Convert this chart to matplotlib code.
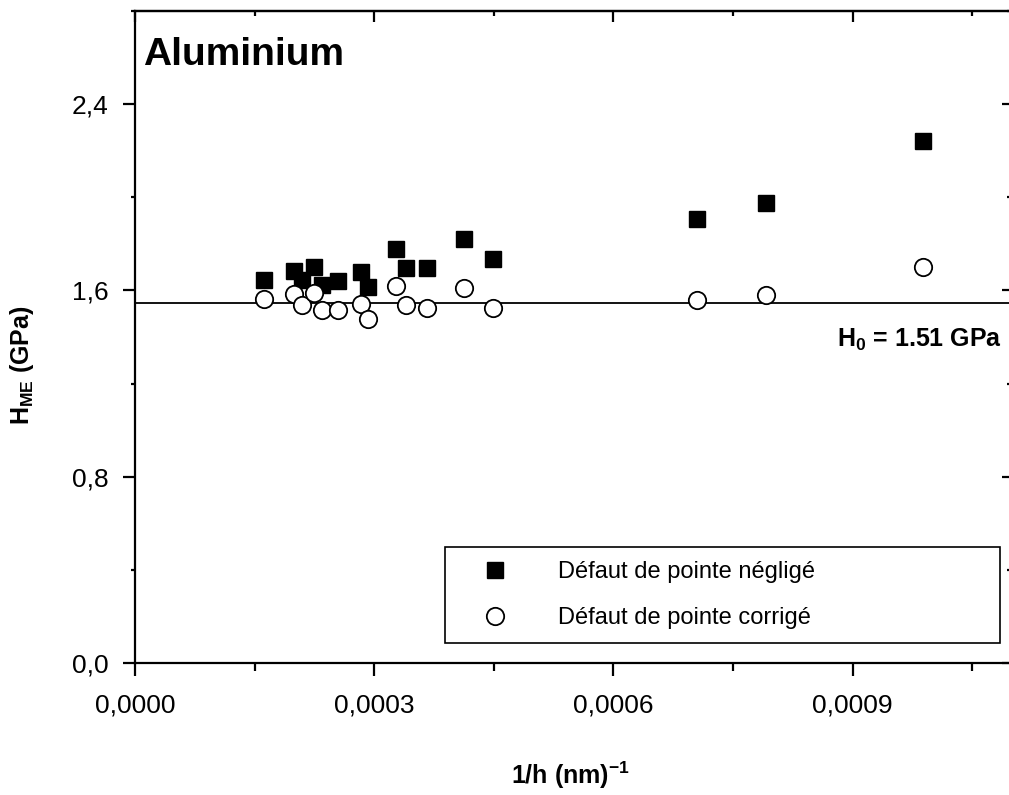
import matplotlib
matplotlib.use('Agg')
import matplotlib.pyplot as plt
from matplotlib.ticker import MultipleLocator, FuncFormatter

plt.rcParams['font.family'] = ['Liberation Sans', 'DejaVu Sans']
plt.rcParams['mathtext.fontset'] = 'custom'
plt.rcParams['mathtext.rm'] = 'Liberation Sans'
plt.rcParams['mathtext.bf'] = 'Liberation Sans:bold'
plt.rcParams['mathtext.it'] = 'Liberation Sans:italic'

# 1/h (nm^-1)
inv_h = [0.000162, 0.000200, 0.000209, 0.000225, 0.000235, 0.000255, 0.000283,
         0.000292, 0.000327, 0.000340, 0.000366, 0.000413, 0.000449, 0.000705,
         0.000791, 0.000988]
# durete, defaut de pointe neglige
h_neglige = [1.643, 1.682, 1.643, 1.700, 1.622, 1.639, 1.677, 1.614, 1.779, 1.698,
             1.698, 1.819, 1.736, 1.905, 1.975, 2.241]
# durete, defaut de pointe corrige
h_corrige = [1.565, 1.586, 1.539, 1.590, 1.514, 1.517, 1.543, 1.479, 1.617, 1.536,
             1.526, 1.612, 1.524, 1.557, 1.579, 1.700]
h0_line = 1.545

W, H = 1009, 795
fig = plt.figure(figsize=(W / 100, H / 100), dpi=100)
ax_l, ax_r, ax_t, ax_b = 135, 1012, 11, 663
ax = fig.add_axes([ax_l / W, 1 - ax_b / H, (ax_r - ax_l) / W, (ax_b - ax_t) / H])

ax.axhline(h0_line, color='black', lw=1.3, zorder=2)
ax.plot(inv_h, h_neglige, ls='none', marker='s', ms=11.5, mfc='black', mec='black',
        label='Défaut de pointe négligé', zorder=3)
ax.plot(inv_h, h_corrige, ls='none', marker='o', ms=12.5, mfc='white', mec='black',
        mew=1.3, label='Défaut de pointe corrigé', zorder=4)

ax.set_xlim(0, 0.0011)
ax.set_ylim(0, 2.8)

ax.xaxis.set_major_locator(MultipleLocator(0.0003))
ax.xaxis.set_minor_locator(MultipleLocator(0.00015))
ax.yaxis.set_major_locator(MultipleLocator(0.8))
ax.yaxis.set_minor_locator(MultipleLocator(0.4))
ax.xaxis.set_major_formatter(FuncFormatter(lambda v, p: f'{v:.4f}'.replace('.', ',')))
ax.yaxis.set_major_formatter(FuncFormatter(lambda v, p: f'{v:.1f}'.replace('.', ',')))

for s in ax.spines.values():
    s.set_linewidth(1.6)

ax.tick_params(axis='x', which='major', direction='out', length=9, width=1.6,
               labelsize=19, pad=13)
ax.tick_params(axis='x', which='minor', direction='out', length=5.5, width=1.6)
ax.tick_params(axis='y', which='major', direction='out', length=9, width=1.6,
               labelsize=19, pad=10)
ax.tick_params(axis='y', which='minor', direction='out', length=3, width=1.6)

# ticks en haut et a droite, vers l'interieur
top = ax.secondary_xaxis('top')
top.xaxis.set_major_locator(MultipleLocator(0.0003))
top.xaxis.set_minor_locator(MultipleLocator(0.00015))
top.tick_params(which='major', direction='in', length=8, width=1.6, labeltop=False)
top.tick_params(which='minor', direction='in', length=3.6, width=1.6)
top.spines['top'].set_linewidth(1.6)

right = ax.secondary_yaxis('right')
right.yaxis.set_major_locator(MultipleLocator(0.8))
right.yaxis.set_minor_locator(MultipleLocator(0.4))
right.tick_params(which='major', direction='in', length=7, width=1.6, labelright=False)
right.tick_params(which='minor', direction='in', length=3.6, width=1.6)

leg = ax.legend(loc='lower left',
                bbox_to_anchor=(445 / W, 1 - 643 / H, 555 / W, 97 / H),
                bbox_transform=fig.transFigure, mode='expand', borderaxespad=0,
                fontsize=17, frameon=True, fancybox=False, handlelength=3.0,
                handletextpad=1.2, labelspacing=1.0, borderpad=0.6)
leg.get_frame().set_edgecolor('black')
leg.get_frame().set_linewidth(1.2)
leg.get_frame().set_alpha(1)

fig.text(143 / W, 1 - 65 / H, 'Aluminium', fontsize=28, fontweight='bold',
         ha='left', va='baseline')
fig.text(1002 / W, 1 - 347 / H, r'$\mathbf{H_0}$ = 1.51 GPa', fontsize=18,
         fontweight='bold', ha='right', va='baseline')
fig.text(22 / W, 1 - 365 / H, r'$\mathbf{H_{ME}}$ (GPa)', fontsize=18,
         fontweight='bold', rotation=90, ha='center', va='center')
fig.text(570 / W, 1 - 775 / H, r'1/h (nm)$^{\mathbf{-1}}$', fontsize=18,
         fontweight='bold', ha='center', va='center')

fig.savefig('out.png', dpi=100)
